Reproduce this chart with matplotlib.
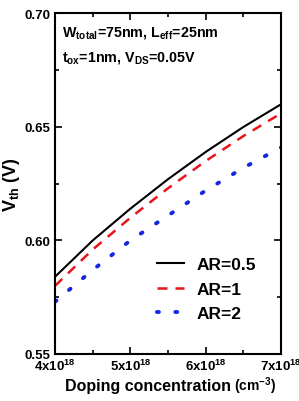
import matplotlib.pyplot as plt
import numpy as np

plt.rcParams['font.family'] = ['Liberation Sans', 'DejaVu Sans']
plt.rcParams['font.weight'] = 'bold'
plt.rcParams['mathtext.fontset'] = 'custom'
plt.rcParams['mathtext.rm'] = 'Liberation Sans:bold'
plt.rcParams['mathtext.it'] = 'Liberation Sans:bold'
plt.rcParams['mathtext.bf'] = 'Liberation Sans:bold'

# doping concentration (cm^-3) and threshold voltage (V)
doping = [4.0e18, 4.5e18, 5.0e18, 5.5e18, 6.0e18, 6.5e18, 7.0e18]
vth_ar05 = [0.584, 0.600, 0.614, 0.627, 0.639, 0.650, 0.660]
vth_ar1 = [0.580, 0.596, 0.610, 0.623, 0.635, 0.646, 0.656]
vth_ar2 = [0.573, 0.587, 0.600, 0.611, 0.622, 0.632, 0.641]

fig = plt.figure(figsize=(2.99, 4.02), dpi=100)
ax = fig.add_axes([0.184, 0.117, 0.756, 0.847])

ax.plot(doping, vth_ar05, color='black', lw=1.5, label='AR=0.5')
ax.plot(doping, vth_ar1, color='#e8141c', lw=1.8, dashes=(4, 3.2), label='AR=1')
ax.plot(doping, vth_ar2, color='#1525e0', lw=2.8, dashes=(0.5, 4.2),
        dash_capstyle='round', label='AR=2')

ax.set_xlim(4e18, 7e18)
ax.set_ylim(0.55, 0.70)
ax.set_xticks([4e18, 5e18, 6e18, 7e18])
ax.set_xticklabels([r'4x10$^{18}$', r'5x10$^{18}$', r'6x10$^{18}$', r'7x10$^{18}$'])
ax.set_xticks([4.5e18, 5.5e18, 6.5e18], minor=True)
ax.set_yticks([0.55, 0.60, 0.65, 0.70])
ax.set_yticklabels(['0.55', '0.60', '0.65', '0.70'])
ax.set_yticks([0.575, 0.625, 0.675], minor=True)
ax.tick_params(which='both', direction='in', top=True, right=True, labelsize=9.5, width=1.2)
ax.tick_params(which='major', length=5, pad=3)
ax.tick_params(which='minor', length=3)
for s in ax.spines.values():
    s.set_linewidth(1.5)

ax.set_ylabel(r'V$_{\rm th}$ (V)', fontsize=13, fontweight='bold', labelpad=2)
# x label: main text plus smaller unit
ax.text(0.044, -0.106, 'Doping concentration', transform=ax.transAxes,
        fontsize=11.5, fontweight='bold', va='baseline', ha='left')
ax.text(0.79, -0.106, r'(cm$^{-3}$)', transform=ax.transAxes,
        fontsize=10, fontweight='bold', va='baseline', ha='left')

ax.text(0.03, 0.935, r'W$_{\rm total}$=75nm, L$_{\rm eff}$=25nm', transform=ax.transAxes,
        fontsize=10.3, fontweight='bold', va='baseline')
ax.text(0.03, 0.862, r't$_{\rm ox}$=1nm, V$_{\rm DS}$=0.05V', transform=ax.transAxes,
        fontsize=10.3, fontweight='bold', va='baseline')

leg = ax.legend(loc='lower right', bbox_to_anchor=(0.958, 0.05), frameon=False, fontsize=12.5,
                handlelength=1.6, labelspacing=0.55, handletextpad=0.7)

fig.savefig('out.png', dpi=100)
